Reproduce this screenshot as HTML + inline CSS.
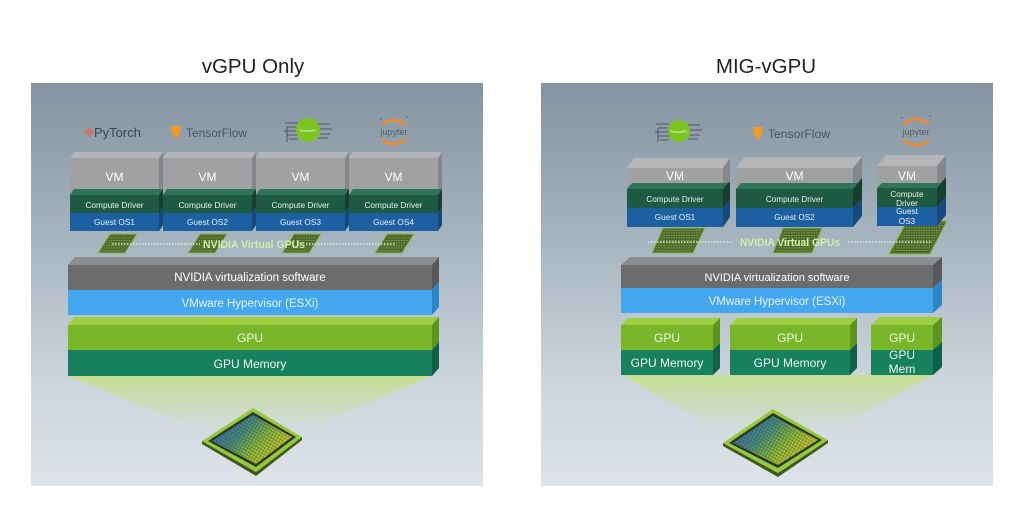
<!DOCTYPE html>
<html>
<head>
<meta charset="utf-8">
<style>
  html,body{margin:0;padding:0;background:#fff;}
  svg{display:block;}
  text{font-family:"Liberation Sans",Arial,sans-serif;}
</style>
</head>
<body>
<svg width="1024" height="509" viewBox="0 0 1024 509" xmlns="http://www.w3.org/2000/svg">
  <defs>
    <linearGradient id="panel" x1="0" y1="0" x2="0" y2="1">
      <stop offset="0" stop-color="#8594a2"/>
      <stop offset="0.4" stop-color="#a8b5c0"/>
      <stop offset="0.75" stop-color="#cdd6dd"/>
      <stop offset="1" stop-color="#dde3e8"/>
    </linearGradient>
    <linearGradient id="beam" x1="0" y1="0" x2="0" y2="1">
      <stop offset="0" stop-color="#c4df8e" stop-opacity="0.95"/>
      <stop offset="0.6" stop-color="#c8e09c" stop-opacity="0.45"/>
      <stop offset="1" stop-color="#cfe2b0" stop-opacity="0"/>
    </linearGradient>
    <linearGradient id="chipcol" x1="0" y1="0.2" x2="1" y2="0.8">
      <stop offset="0" stop-color="#3f66c8"/>
      <stop offset="0.35" stop-color="#4a9080"/>
      <stop offset="0.6" stop-color="#8cbc40"/>
      <stop offset="1" stop-color="#ecd030"/>
    </linearGradient>
    <pattern id="dots" width="3" height="3" patternUnits="userSpaceOnUse" patternTransform="rotate(30)">
      <rect x="0" y="0" width="3" height="0.8" fill="#1a2410" opacity="0.3"/>
      <rect x="0" y="0" width="0.8" height="3" fill="#1a2410" opacity="0.3"/>
    </pattern>
    <pattern id="sgrid" width="2.5" height="2.5" patternUnits="userSpaceOnUse">
      <rect x="0" y="0" width="2.5" height="0.8" fill="#a8c474" opacity="0.55"/>
      <rect x="0" y="0" width="0.8" height="2.5" fill="#2c3f18" opacity="0.45"/>
    </pattern>
  </defs>

  <!-- Titles -->
  <text x="253" y="73" font-size="20.5" fill="#222" text-anchor="middle">vGPU Only</text>
  <text x="766" y="73" font-size="20.5" fill="#222" text-anchor="middle">MIG-vGPU</text>

  <!-- Panels -->
  <rect x="31" y="83" width="452" height="403" fill="url(#panel)"/>
  <rect x="541" y="83" width="452" height="403" fill="url(#panel)"/>

  <!-- ================= LEFT PANEL ================= -->
  <circle cx="89" cy="132" r="4" fill="#d8705e" opacity="0.85"/>
  <text x="94" y="137" font-size="13" fill="#3f4550">PyTorch</text>
  <path d="M171 126 L181 126 L180 133 L176 139 L172 133 Z" fill="#f39b22"/>
  <text x="186" y="137" font-size="12" fill="#4a5462" textLength="61" lengthAdjust="spacingAndGlyphs">TensorFlow</text>
  <g stroke="#3d4650" stroke-width="0.8">
    <line x1="285" y1="123" x2="298" y2="123"/><line x1="287" y1="127" x2="298" y2="127"/>
    <line x1="284" y1="131" x2="297" y2="131"/><line x1="287" y1="135" x2="298" y2="135"/>
    <line x1="289" y1="139" x2="298" y2="139"/><line x1="287" y1="127" x2="287" y2="142"/>
    <line x1="318" y1="124" x2="330" y2="124"/><line x1="320" y1="129" x2="332" y2="129"/>
    <line x1="320" y1="134" x2="330" y2="134"/><line x1="318" y1="138" x2="328" y2="138"/>
  </g>
  <circle cx="308" cy="130" r="12" fill="#7cc41f"/>
  <text x="308" y="132" font-size="4" fill="#fff" text-anchor="middle">TensorRT</text>
  <path d="M382 125 Q394 115 406 125" stroke="#f08a2a" stroke-width="2.6" fill="none"/>
  <path d="M382 139 Q394 149 406 139" stroke="#f08a2a" stroke-width="2.6" fill="none"/>
  <text x="394" y="135" font-size="9" fill="#5a5e66" text-anchor="middle">jupyter</text>
  <circle cx="381" cy="119" r="1" fill="#777"/><circle cx="407" cy="117" r="1" fill="#777"/>

  <!-- VM boxes left -->
  <g>
    <polygon points="70,158 74,152 163,152 159,158" fill="#b4b5b7"/>
    <polygon points="159,158 163,152 163,225 159,231" fill="#86878a"/>
    <rect x="70" y="158" width="89" height="37" fill="#a0a1a3"/>
    <polygon points="70,195 74,189 163,189 159,195" fill="#2e7458"/>
    <rect x="70" y="195" width="89" height="18" fill="#1e5944"/>
    <rect x="70" y="213" width="89" height="18" fill="#1c60a2"/>
    <polygon points="159,195 163,189 163,207 159,213" fill="#163f30"/>
    <polygon points="159,213 163,207 163,225 159,231" fill="#174a7c"/>
    <text x="114.5" y="181" font-size="12" fill="#fff" text-anchor="middle">VM</text>
    <text x="114.5" y="208" font-size="8.3" fill="#e8f0ec" text-anchor="middle">Compute Driver</text>
    <text x="114.5" y="225" font-size="8.3" fill="#e8f0f8" text-anchor="middle">Guest OS1</text>
  </g>
  <g>
    <polygon points="163,158 167,152 256,152 252,158" fill="#b4b5b7"/>
    <polygon points="252,158 256,152 256,225 252,231" fill="#86878a"/>
    <rect x="163" y="158" width="89" height="37" fill="#a0a1a3"/>
    <polygon points="163,195 167,189 256,189 252,195" fill="#2e7458"/>
    <rect x="163" y="195" width="89" height="18" fill="#1e5944"/>
    <rect x="163" y="213" width="89" height="18" fill="#1c60a2"/>
    <polygon points="252,195 256,189 256,207 252,213" fill="#163f30"/>
    <polygon points="252,213 256,207 256,225 252,231" fill="#174a7c"/>
    <text x="207.5" y="181" font-size="12" fill="#fff" text-anchor="middle">VM</text>
    <text x="207.5" y="208" font-size="8.3" fill="#e8f0ec" text-anchor="middle">Compute Driver</text>
    <text x="207.5" y="225" font-size="8.3" fill="#e8f0f8" text-anchor="middle">Guest OS2</text>
  </g>
  <g>
    <polygon points="256,158 260,152 349,152 345,158" fill="#b4b5b7"/>
    <polygon points="345,158 349,152 349,225 345,231" fill="#86878a"/>
    <rect x="256" y="158" width="89" height="37" fill="#a0a1a3"/>
    <polygon points="256,195 260,189 349,189 345,195" fill="#2e7458"/>
    <rect x="256" y="195" width="89" height="18" fill="#1e5944"/>
    <rect x="256" y="213" width="89" height="18" fill="#1c60a2"/>
    <polygon points="345,195 349,189 349,207 345,213" fill="#163f30"/>
    <polygon points="345,213 349,207 349,225 345,231" fill="#174a7c"/>
    <text x="300.5" y="181" font-size="12" fill="#fff" text-anchor="middle">VM</text>
    <text x="300.5" y="208" font-size="8.3" fill="#e8f0ec" text-anchor="middle">Compute Driver</text>
    <text x="300.5" y="225" font-size="8.3" fill="#e8f0f8" text-anchor="middle">Guest OS3</text>
  </g>
  <g>
    <polygon points="349,158 353,152 442,152 438,158" fill="#b4b5b7"/>
    <polygon points="438,158 442,152 442,225 438,231" fill="#86878a"/>
    <rect x="349" y="158" width="89" height="37" fill="#a0a1a3"/>
    <polygon points="349,195 353,189 442,189 438,195" fill="#2e7458"/>
    <rect x="349" y="195" width="89" height="18" fill="#1e5944"/>
    <rect x="349" y="213" width="89" height="18" fill="#1c60a2"/>
    <polygon points="438,195 442,189 442,207 438,213" fill="#163f30"/>
    <polygon points="438,213 442,207 442,225 438,231" fill="#174a7c"/>
    <text x="393.5" y="181" font-size="12" fill="#fff" text-anchor="middle">VM</text>
    <text x="393.5" y="208" font-size="8.3" fill="#e8f0ec" text-anchor="middle">Compute Driver</text>
    <text x="393.5" y="225" font-size="8.3" fill="#e8f0f8" text-anchor="middle">Guest OS4</text>
  </g>

  <!-- small vGPU chips left -->
  <g stroke="#8fb450" stroke-width="1">
    <polygon points="110,234 137,234 125,253 98,253" fill="#51702c"/>
    <polygon points="200,234 227,234 215,253 188,253" fill="#51702c"/>
    <polygon points="294,234 321,234 309,253 282,253" fill="#51702c"/>
    <polygon points="387,234 414,234 402,253 375,253" fill="#51702c"/>
  </g>
  <g fill="url(#sgrid)">
    <polygon points="112,236 134,236 123,251 100,251"/>
    <polygon points="202,236 224,236 213,251 190,251"/>
    <polygon points="296,236 318,236 307,251 284,251"/>
    <polygon points="389,236 411,236 400,251 377,251"/>
  </g>
  <g stroke="#f2f5f0" stroke-width="1.2" stroke-dasharray="1.5 1.5">
    <line x1="112" y1="244" x2="200" y2="244"/>
    <line x1="306" y1="244" x2="395" y2="244"/>
  </g>
  <text x="254" y="248" font-size="11" font-weight="bold" fill="#d6eeab" text-anchor="middle" textLength="102" lengthAdjust="spacingAndGlyphs">NVIDIA Virtual GPUs</text>

  <!-- bars left -->
  <polygon points="68,265 75,257 439,257 432,265" fill="#8c8d8f"/>
  <rect x="68" y="265" width="364" height="25" fill="#6b6c6e"/>
  <polygon points="432,265 439,257 439,282 432,290" fill="#57585a"/>
  <rect x="68" y="290" width="364" height="25" fill="#42a7ee"/>
  <polygon points="432,290 439,282 439,307 432,315" fill="#2b87c6"/>
  <text x="250" y="281" font-size="11.5" fill="#fff" text-anchor="middle">NVIDIA virtualization software</text>
  <text x="250" y="307" font-size="11.5" fill="#eaf4fc" text-anchor="middle">VMware Hypervisor (ESXi)</text>

  <polygon points="68,376 432,376 300,432 205,432" fill="url(#beam)"/>
  <polygon points="68,325 75,317 439,317 432,325" fill="#9dcf40"/>
  <rect x="68" y="325" width="364" height="25" fill="#79b62a"/>
  <polygon points="432,325 439,317 439,342 432,350" fill="#5c951e"/>
  <rect x="68" y="350" width="364" height="26" fill="#17805e"/>
  <polygon points="432,350 439,342 439,368 432,376" fill="#0e6147"/>
  <text x="250" y="342" font-size="12" fill="#f2f8e8" text-anchor="middle">GPU</text>
  <text x="250" y="368" font-size="12" fill="#eef6f2" text-anchor="middle">GPU Memory</text>

  <!-- big chip left -->
  <polygon points="202,444 256,476 302,440 302,437 256,472 202,441" fill="#3d5a1a"/>
  <polygon points="253,408 302,437 256,472 202,441" fill="#96c93e"/>
  <polygon points="253,412 296,437 256,467 208,441" fill="#2c3620"/>
  <polygon points="253,415 292,437 256,464 212,441" fill="url(#chipcol)"/>
  <polygon points="253,415 292,437 256,464 212,441" fill="url(#dots)"/>

  <!-- ================= RIGHT PANEL ================= -->
  <g stroke="#3d4650" stroke-width="0.8">
    <line x1="656" y1="124" x2="669" y2="124"/><line x1="658" y1="128" x2="669" y2="128"/>
    <line x1="655" y1="132" x2="668" y2="132"/><line x1="658" y1="136" x2="669" y2="136"/>
    <line x1="660" y1="140" x2="669" y2="140"/><line x1="658" y1="128" x2="658" y2="142"/>
    <line x1="688" y1="125" x2="700" y2="125"/><line x1="690" y1="130" x2="702" y2="130"/>
    <line x1="690" y1="135" x2="700" y2="135"/><line x1="688" y1="139" x2="698" y2="139"/>
  </g>
  <line x1="700" y1="133" x2="752" y2="133" stroke="#8e9aa6" stroke-width="0.8"/>
  <circle cx="679" cy="131" r="11" fill="#7cc41f"/>
  <text x="679" y="133" font-size="4" fill="#fff" text-anchor="middle">TensorRT</text>
  <path d="M753 127 L763 127 L762 134 L758 140 L754 134 Z" fill="#f39b22"/>
  <text x="768" y="138" font-size="12" fill="#4a5462" textLength="62" lengthAdjust="spacingAndGlyphs">TensorFlow</text>
  <path d="M903 124 Q916 114 929 124" stroke="#f08a2a" stroke-width="2.6" fill="none"/>
  <path d="M903 140 Q916 150 929 140" stroke="#f08a2a" stroke-width="2.6" fill="none"/>
  <text x="916" y="135" font-size="9" fill="#5a5e66" text-anchor="middle">jupyter</text>
  <circle cx="902" cy="118" r="1" fill="#777"/><circle cx="930" cy="116" r="1" fill="#777"/>

  <!-- small vGPU chips right (behind boxes) -->
  <g stroke="#8fb450" stroke-width="1">
    <polygon points="663,228 705,228 693,253 652,253" fill="#51702c"/>
    <polygon points="783,228 822,228 812,253 773,253" fill="#51702c"/>
    <polygon points="907,221 947,221 930,254 889,254" fill="#51702c"/>
  </g>
  <g fill="url(#sgrid)">
    <polygon points="665,230 702,230 691,251 655,251"/>
    <polygon points="785,230 819,230 810,251 776,251"/>
    <polygon points="909,223 944,223 928,252 892,252"/>
  </g>

  <!-- VM boxes right -->
  <g>
    <polygon points="627,168 634,158 730,158 723,168" fill="#b6b7b9"/>
    <polygon points="723,168 730,158 730,217 723,227" fill="#86878a"/>
    <rect x="627" y="168" width="96" height="21" fill="#a0a1a3"/>
    <polygon points="627,189 632,183 728,183 723,189" fill="#2e7458"/>
    <rect x="627" y="189" width="96" height="19" fill="#1e5944"/>
    <rect x="627" y="208" width="96" height="19" fill="#1c60a2"/>
    <polygon points="723,189 728,183 730,182 730,200 723,208" fill="#163f30"/>
    <polygon points="723,208 730,200 730,217 723,227" fill="#174a7c"/>
    <text x="675" y="180" font-size="12" fill="#fff" text-anchor="middle">VM</text>
    <text x="675" y="202" font-size="8.2" fill="#e8f0ec" text-anchor="middle">Compute Driver</text>
    <text x="675" y="220" font-size="8.2" fill="#e8f0f8" text-anchor="middle">Guest OS1</text>
  </g>
  <g>
    <polygon points="736,168 744,157 862,157 853,168" fill="#b6b7b9"/>
    <polygon points="853,168 862,157 862,216 853,227" fill="#86878a"/>
    <rect x="736" y="168" width="117" height="21" fill="#a0a1a3"/>
    <polygon points="736,189 741,183 858,183 853,189" fill="#2e7458"/>
    <rect x="736" y="189" width="117" height="19" fill="#1e5944"/>
    <rect x="736" y="208" width="117" height="19" fill="#1c60a2"/>
    <polygon points="853,189 862,178 862,199 853,208" fill="#163f30"/>
    <polygon points="853,208 862,199 862,216 853,227" fill="#174a7c"/>
    <text x="794.5" y="180" font-size="12" fill="#fff" text-anchor="middle">VM</text>
    <text x="794.5" y="202" font-size="8.2" fill="#e8f0ec" text-anchor="middle">Compute Driver</text>
    <text x="794.5" y="220" font-size="8.2" fill="#e8f0f8" text-anchor="middle">Guest OS2</text>
  </g>
  <g>
    <polygon points="877,166 886,155 946,155 937,166" fill="#b6b7b9"/>
    <polygon points="937,166 946,155 946,215 937,226" fill="#86878a"/>
    <rect x="877" y="166" width="60" height="22" fill="#a0a1a3"/>
    <polygon points="877,188 882,183 942,183 937,188" fill="#2e7458"/>
    <rect x="877" y="188" width="60" height="19" fill="#1e5944"/>
    <rect x="877" y="207" width="60" height="19" fill="#1c60a2"/>
    <polygon points="937,188 946,177 946,196 937,207" fill="#163f30"/>
    <polygon points="937,207 946,196 946,215 937,226" fill="#174a7c"/>
    <text x="907" y="180" font-size="12" fill="#fff" text-anchor="middle">VM</text>
    <text x="907" y="197" font-size="8.2" fill="#e8f0ec" text-anchor="middle">Compute</text>
    <text x="907" y="206" font-size="8.2" fill="#e8f0ec" text-anchor="middle">Driver</text>
    <text x="907" y="214" font-size="8.2" fill="#e8f0f8" text-anchor="middle">Guest</text>
    <text x="907" y="224" font-size="8.2" fill="#e8f0f8" text-anchor="middle">OS3</text>
  </g>

  <g stroke="#f2f5f0" stroke-width="1.2" stroke-dasharray="1.5 1.5">
    <line x1="648" y1="242" x2="733" y2="242"/>
    <line x1="848" y1="242" x2="932" y2="242"/>
  </g>
  <text x="790" y="246" font-size="11" font-weight="bold" fill="#d6eeab" text-anchor="middle" textLength="100" lengthAdjust="spacingAndGlyphs">NVIDIA Virtual GPUs</text>

  <!-- bars right -->
  <polygon points="621,265 630,257 942,257 933,265" fill="#8c8d8f"/>
  <rect x="621" y="265" width="312" height="23" fill="#6b6c6e"/>
  <polygon points="933,265 942,257 942,280 933,288" fill="#57585a"/>
  <rect x="621" y="288" width="312" height="25" fill="#42a7ee"/>
  <polygon points="933,288 942,280 942,305 933,313" fill="#2b87c6"/>
  <text x="777" y="281" font-size="11" fill="#fff" text-anchor="middle">NVIDIA virtualization software</text>
  <text x="777" y="305" font-size="11.5" fill="#eaf4fc" text-anchor="middle">VMware Hypervisor (ESXi)</text>

  <polygon points="621,375 933,375 828,432 724,432" fill="url(#beam)"/>

  <!-- GPU boxes right -->
  <g>
    <polygon points="621,325 628,318 720,318 713,325" fill="#9dcf40"/>
    <rect x="621" y="325" width="92" height="25" fill="#79b62a"/>
    <polygon points="713,325 720,318 720,343 713,350" fill="#5c951e"/>
    <rect x="621" y="350" width="92" height="25" fill="#17805e"/>
    <polygon points="713,350 720,343 720,368 713,375" fill="#0e6147"/>
    <text x="667" y="342" font-size="12" fill="#f2f8e8" text-anchor="middle">GPU</text>
    <text x="667" y="367" font-size="12" fill="#eef6f2" text-anchor="middle">GPU Memory</text>
  </g>
  <g>
    <polygon points="730,325 737,318 857,318 850,325" fill="#9dcf40"/>
    <rect x="730" y="325" width="120" height="25" fill="#79b62a"/>
    <polygon points="850,325 857,318 857,343 850,350" fill="#5c951e"/>
    <rect x="730" y="350" width="120" height="25" fill="#17805e"/>
    <polygon points="850,350 857,343 857,368 850,375" fill="#0e6147"/>
    <text x="790" y="342" font-size="12" fill="#f2f8e8" text-anchor="middle">GPU</text>
    <text x="790" y="367" font-size="12" fill="#eef6f2" text-anchor="middle">GPU Memory</text>
  </g>
  <g>
    <polygon points="871,325 880,317 942,317 933,325" fill="#9dcf40"/>
    <rect x="871" y="325" width="62" height="25" fill="#79b62a"/>
    <polygon points="933,325 942,317 942,342 933,350" fill="#5c951e"/>
    <rect x="871" y="350" width="62" height="25" fill="#17805e"/>
    <polygon points="933,350 942,342 942,367 933,375" fill="#0e6147"/>
    <text x="902" y="342" font-size="12" fill="#f2f8e8" text-anchor="middle">GPU</text>
    <text x="902" y="359" font-size="12" fill="#eef6f2" text-anchor="middle">GPU</text>
    <text x="902" y="373" font-size="12" fill="#eef6f2" text-anchor="middle">Mem</text>
  </g>

  <!-- big chip right -->
  <polygon points="723,446 778,477 828,443 828,440 778,473 723,443" fill="#3d5a1a"/>
  <polygon points="773,409 828,440 778,473 723,443" fill="#96c93e"/>
  <polygon points="773,413 822,440 778,468 729,443" fill="#2c3620"/>
  <polygon points="773,416 818,440 778,465 733,443" fill="url(#chipcol)"/>
  <polygon points="773,416 818,440 778,465 733,443" fill="url(#dots)"/>
</svg>
</body>
</html>
